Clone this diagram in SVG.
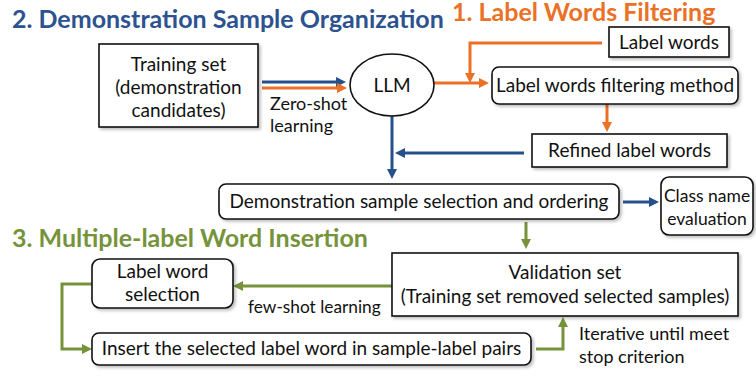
<svg xmlns="http://www.w3.org/2000/svg" width="756" height="376" viewBox="0 0 756 376">
<defs>
<style>
.t{font-family:Lato,"Liberation Sans",sans-serif;font-size:19px;fill:#111}
.s{font-family:Lato,"Liberation Sans",sans-serif;font-size:18px;fill:#111}
.h{font-family:Lato,"Liberation Sans",sans-serif;font-weight:bold;font-size:25px}
.box{fill:#fff;stroke:#111;stroke-width:1.6;filter:url(#sh)}
.ab{fill:none;stroke:#24518c;stroke-width:3}
.ao{fill:none;stroke:#ea7125;stroke-width:3}
.ag{fill:none;stroke:#76933c;stroke-width:3}
</style>
<filter id="sh" x="-10%" y="-20%" width="130%" height="150%">
<feDropShadow dx="2" dy="2" stdDeviation="1.5" flood-color="#000" flood-opacity="0.25"/>
</filter>
<marker id="mb" viewBox="0 0 10 10" refX="5" refY="5" markerWidth="10" markerHeight="10" markerUnits="userSpaceOnUse" orient="auto"><path d="M0,0 L10,5 L0,10 z" fill="#24518c"/></marker>
<marker id="mo" viewBox="0 0 10 10" refX="5" refY="5" markerWidth="10" markerHeight="10" markerUnits="userSpaceOnUse" orient="auto"><path d="M0,0 L10,5 L0,10 z" fill="#ea7125"/></marker>
<marker id="mg" viewBox="0 0 10 10" refX="5" refY="5" markerWidth="10" markerHeight="10" markerUnits="userSpaceOnUse" orient="auto"><path d="M0,0 L10,5 L0,10 z" fill="#76933c"/></marker>
</defs>
<rect width="756" height="376" fill="#fff"/>

<g id="titles">
<text class="h" x="12" y="28" fill="#2c5290">2. Demonstration Sample Organization</text>
<text class="h" x="452" y="21" fill="#ea7125">1. Label Words Filtering</text>
<text class="h" x="12" y="247" fill="#76933c">3. Multiple-label Word Insertion</text>
</g>

<g id="connectors">
<path class="ab" d="M262,82 H341" marker-end="url(#mb)"/>
<path class="ao" d="M262,88 H342" marker-end="url(#mo)"/>
<path class="ao" d="M434,83 H484" marker-end="url(#mo)"/>
<path class="ao" d="M602,43 H470 V78" marker-end="url(#mo)"/>
<path class="ao" d="M607,104 V127" marker-end="url(#mo)"/>
<path class="ab" d="M524,153 H400" marker-end="url(#mb)"/>
<path class="ab" d="M392,116 V174" marker-end="url(#mb)"/>
<path class="ab" d="M623,202 H654" marker-end="url(#mb)"/>
<path class="ag" d="M526,222 V244" marker-end="url(#mg)"/>
<path class="ag" d="M392,286 H238" marker-end="url(#mg)"/>
<path class="ag" d="M92,284 H62 V349 H87" marker-end="url(#mg)"/>
<path class="ag" d="M536,349 H563 V322" marker-end="url(#mg)"/>
</g>

<g id="training-set">
<rect class="box" x="99" y="44" width="159" height="83"/>
<text class="t" x="178.5" y="71" text-anchor="middle">Training set</text>
<text class="t" x="178.5" y="94" text-anchor="middle">(demonstration</text>
<text class="t" x="178.5" y="117" text-anchor="middle">candidates)</text>
</g>

<g id="zero-shot-label">
<text class="s" x="270" y="110">Zero-shot</text>
<text class="s" x="270" y="132">learning</text>
</g>

<g id="llm">
<ellipse cx="392" cy="85" rx="42" ry="31" fill="#fff" stroke="#111" stroke-width="1.6"/>
<text class="t" x="392" y="92" text-anchor="middle">LLM</text>
</g>

<g id="label-words">
<rect class="box" x="609" y="27" width="120" height="30"/>
<text class="t" x="669" y="49" text-anchor="middle">Label words</text>
</g>

<g id="filtering-method">
<rect class="box" x="492" y="67" width="246" height="37" rx="7"/>
<text class="t" x="615" y="92" text-anchor="middle">Label words filtering method</text>
</g>

<g id="refined-label-words">
<rect class="box" x="532" y="134" width="195" height="33"/>
<text class="t" x="629.5" y="157" text-anchor="middle">Refined label words</text>
</g>

<g id="demo-selection">
<rect class="box" x="219" y="184" width="400" height="35" rx="7"/>
<text class="t" x="419" y="208" text-anchor="middle">Demonstration sample selection and ordering</text>
</g>

<g id="class-name-evaluation">
<rect class="box" x="661" y="177" width="92" height="58" rx="8"/>
<text class="t" x="707" y="202" text-anchor="middle" style="font-size:17.5px">Class name</text>
<text class="t" x="707" y="225" text-anchor="middle" style="font-size:17.5px">evaluation</text>
</g>

<g id="validation-set">
<rect class="box" x="392" y="253" width="346" height="63"/>
<text class="t" x="565" y="279" text-anchor="middle">Validation set</text>
<text class="t" x="565" y="303" text-anchor="middle">(Training set removed selected samples)</text>
</g>

<g id="few-shot-label">
<text class="s" x="248" y="313" style="font-size:17.3px">few-shot learning</text>
</g>

<g id="label-word-selection">
<rect class="box" x="92" y="259" width="141" height="49" rx="8"/>
<text class="t" x="162.5" y="278" text-anchor="middle">Label word</text>
<text class="t" x="162.5" y="301" text-anchor="middle">selection</text>
</g>

<g id="insert-label-word">
<rect class="box" x="92" y="333" width="439" height="32" rx="7"/>
<text class="t" x="311.5" y="355" text-anchor="middle">Insert the selected label word in sample-label pairs</text>
</g>

<g id="iterative-label">
<text class="s" x="579" y="340">Iterative until meet</text>
<text class="s" x="579" y="363">stop criterion</text>
</g>
</svg>
